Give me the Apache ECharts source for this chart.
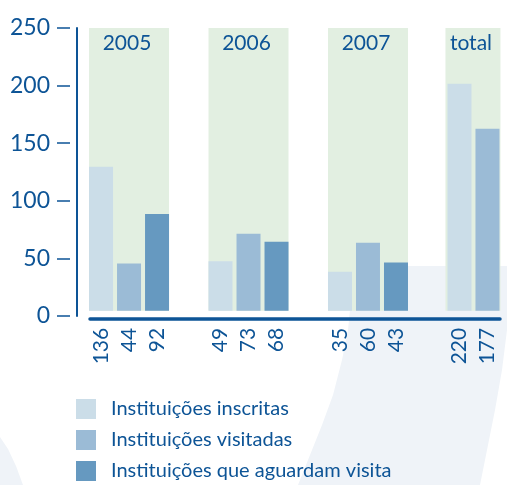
<!DOCTYPE html>
<html><head><meta charset="utf-8">
<script src="https://cdn.jsdelivr.net/npm/echarts@6/dist/echarts.min.js"></script>
<style>html,body{margin:0;padding:0;background:#fff}#c{width:507px;height:485px}</style>
</head><body><div id="c"></div>
<script>
// ---- data ----
const groups = ['2005', '2006', '2007', 'total'];
const seriesNames = ['Instituições inscritas', 'Instituições visitadas', 'Instituições que aguardam visita'];
// bar heights as drawn in the picture
const inscritas = [125, 43, 34, 197];
const visitadas = [41, 67, 59, 158];
const aguardam = [84, 60, 42, null];
// numbers printed under the bars
const inscritasLabels = ['136', '49', '35', '220'];
const visitadasLabels = ['44', '73', '60', '177'];
const aguardamLabels = ['92', '68', '43', ''];
const yTicks = [0, 50, 100, 150, 200, 250];

// ---- style ----
const BLUE = '#0d5496';
const COLORS = ['#cbdde8', '#9bbbd6', '#6699c0'];
const BAND = '#e2efe1';
const FONT = 'Lato';

const chart = echarts.init(document.getElementById('c'), null, {renderer: 'canvas'});
const labelSets = [inscritasLabels, visitadasLabels, aguardamLabels];
const values = [inscritas, visitadas, aguardam];

function barSeries(i) {
  return {
    type: 'bar', name: seriesNames[i], xAxisIndex: 1, yAxisIndex: 2,
    data: values[i], barWidth: 24, barGap: '16.67%', z: 3,
    itemStyle: {color: COLORS[i]},
    label: {
      show: true, position: 'bottom', distance: 17, rotate: 90,
      align: 'right', verticalAlign: 'middle',
      color: BLUE, fontFamily: FONT, fontSize: 21,
      formatter: p => labelSets[i][p.dataIndex]
    }
  };
}

const option = {
  animation: false,
  textStyle: {fontFamily: FONT},
  graphic: [
    {type: 'polygon', z: -10, silent: true,
     shape: {points: [[352,266],[507,266],[507,330],[502,370],[495,410],[487,450],[480,485],[298,485],[310,455],[322,425],[333,395],[342,360],[348,330],[351,300]]},
     style: {fill: '#eff3f8'}},
    {type: 'polygon', z: -10, silent: true,
     shape: {points: [[0,437],[8,449],[16,466],[23,485],[0,485]]},
     style: {fill: '#eff3f8'}}
  ],
  grid: [
    {left: 77, width: 423, top: 28, height: 288, outerBoundsMode: 'none', containLabel: false},
    {left: 69.3, width: 477.9, top: 28, height: 288, outerBoundsMode: 'none', containLabel: false},
    {left: 90, width: 410, top: 300, height: 18.3, outerBoundsMode: 'none', containLabel: false}
  ],
  xAxis: [
    {gridIndex: 0, type: 'value', show: false},
    {gridIndex: 1, type: 'category', data: groups, show: false},
    {gridIndex: 2, type: 'value', min: 0, max: 1,
     axisLine: {show: true, lineStyle: {color: BLUE, width: 3.5}},
     axisTick: {show: false}, axisLabel: {show: false}, splitLine: {show: false}}
  ],
  yAxis: [
    {gridIndex: 0, type: 'value', position: 'left', min: yTicks[0], max: yTicks[yTicks.length-1], interval: 50,
     axisLine: {show: true, lineStyle: {color: BLUE, width: 2}},
     axisTick: {show: false}, axisLabel: {show: false}, splitLine: {show: false}},
    {gridIndex: 0, type: 'value', position: 'left', min: yTicks[0], max: yTicks[yTicks.length-1], interval: 50, offset: 7,
     axisLine: {show: false},
     axisTick: {show: true, length: 13, lineStyle: {color: BLUE, width: 1.5}},
     axisLabel: {show: true, margin: 20, color: BLUE, fontSize: 23, fontFamily: FONT},
     splitLine: {show: false}},
    {gridIndex: 1, type: 'value', min: -4.5, max: 245.5, show: false},
    {gridIndex: 2, type: 'value', show: false}
  ],
  legend: {
    orient: 'vertical', left: 76, top: 399, padding: 0, itemWidth: 20, itemHeight: 20, itemGap: 11,
    icon: 'rect', data: seriesNames,
    textStyle: {color: BLUE, fontSize: 20, fontFamily: FONT, padding: [0, 0, 0, 10]}
  },
  series: [
    {
      type: 'custom', xAxisIndex: 1, yAxisIndex: 2, z: 1, silent: true,
      data: groups.map((g, i) => [i]),
      encode: {x: 0},
      renderItem: function (params, api) {
        const idx = api.value(0);
        const base = api.coord([idx, 0]);
        const top = params.coordSys.y;
        const isTotal = groups[idx] === 'total';
        const w = isTotal ? 55 : 80;
        const x0 = isTotal ? base[0] - 42 : base[0] - 40;
        return {
          type: 'group',
          children: [
            {type: 'rect', shape: {x: x0, y: top, width: w, height: base[1] - top}, style: {fill: BAND}},
            {type: 'text', style: {text: groups[idx], x: x0 + w / 2 - 2, y: top + 15,
              align: 'center', verticalAlign: 'middle', fill: BLUE, fontSize: 21, fontFamily: FONT}}
          ]
        };
      }
    },
    barSeries(0), barSeries(1), barSeries(2)
  ]
};
chart.setOption(option);
</script></body></html>
